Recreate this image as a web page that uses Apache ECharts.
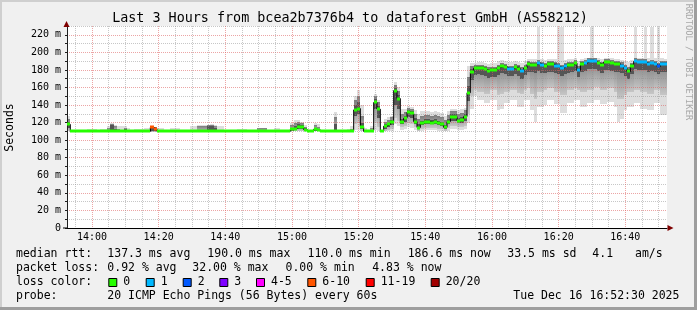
<!DOCTYPE html>
<html><head><meta charset="utf-8">
<script src="https://cdn.jsdelivr.net/npm/echarts@6/dist/echarts.min.js"></script>
<style>html,body{margin:0;padding:0;background:#f0f0f0}#c{width:697px;height:310px}</style>
</head><body><div id="c"></div>
<script>
// time axis: minutes after 13:52:30, one bin per minute
const START_MIN = 13 * 60 + 52.5;
const TITLE = 'Last 3 Hours from bcea2b7376b4 to dataforest GmbH (AS58212)';
const yTicks = [0, 20, 40, 60, 80, 100, 120, 140, 160, 180, 200, 220];
const xTickLabels = ['14:00', '14:20', '14:40', '15:00', '15:20', '15:40', '16:00', '16:20', '16:40'];

// median rtt (ms) per minute
const median = [
118,110,110,110,110,110,110,110,110,110,
110,110,111,111,111,110,110,111,111,110,
110,110,110,110,110,114.5,113,110,110,110,
110,110,110,110,110,110,110,110,110,110,
110,110,111,111,111,111,110,110,110,110,
110,110,110,110,110,110,110,110,110,110,
110,110,110,110,110,110,110,112.5,113.2,115,
115,112,110,110,112.5,111.5,110,110,110,110,
110.5,110,110,110,110,110,134.5,136,115.5,110,
110,111,143,135.3,110,116,118,120.4,156.5,147.4,
120.4,125,131.8,130.7,121.2,114.4,119.3,121.2,121.2,120.1,
121.2,119.3,118,114.5,121,126.9,126.9,122.3,123.5,126.9,
154,177.5,182,182.5,182,180.5,179,179.5,179.5,182.5,
184,183.5,181.3,181.3,182.8,181.5,178.5,182,186.5,186,
185.8,187.7,185.8,184,186.5,186.5,185,184,182,184,
185.8,186,187.7,179.5,186.5,187.7,189.6,190,189.6,187.7,
185.8,188.8,188.8,187.7,186.5,187,184.7,182,178.2,184,
189.6,188.5,188.5,188.5,187,187.7,187,184,187,186.6];

// loss class index per minute (0:'0',1:'1',2:'2',...,5:'6-10')
const loss = [
0,0,0,0,0,0,0,0,0,0, 0,0,0,0,0,0,0,0,0,0,
0,0,0,0,0,5,5,0,0,0, 0,0,0,0,0,0,0,0,0,0,
0,0,0,0,0,0,0,0,0,0, 0,0,0,0,0,0,0,0,0,0,
0,0,0,0,0,0,0,0,0,0, 0,0,0,0,0,0,0,0,0,0,
0,0,0,0,0,0,0,0,0,0, 0,0,0,0,0,0,0,0,0,0,
0,0,0,0,0,0,0,0,0,0, 0,0,0,0,0,0,0,0,0,0,
0,0,0,0,0,0,0,0,0,0, 0,0,1,1,0,0,1,0,0,0,
0,1,1,0,0,0,1,1,1,1, 0,0,0,1,0,1,1,1,1,0,
0,0,0,0,0,0,1,1,0,0, 1,1,1,1,1,1,1,2,1,1];

// smoke: min, ~10th, ~25th, ~75th, ~90th, max ping (ms)
const smokeMin = [
110,109.5,109.5,109.5,109.5,109.5,109.5,109.5,109.5,109.5,
109.5,109.5,109.5,109.5,109.5,109.5,109.5,109.5,109.5,109.5,
109.5,109.5,109.5,109.5,109.5,109.5,109.5,109.5,109.5,109.5,
109.5,109.5,109.5,109.5,109.5,109.5,109.5,109.5,109.5,109.5,
109.5,109.5,109.5,109.5,109.5,109.5,109.5,109.5,109.5,109.5,
109.5,109.5,109.5,109.5,109.5,109.5,109.5,109.5,109.5,109.5,
109.5,109.5,109.5,109.5,109.5,109.5,109.5,110,110,110,
110,110,109.5,109.5,110,110,109.5,109.5,109.5,109.5,
109.5,109.5,109.5,109.5,109.5,109.5,112,112,110,109.5,
109.5,110,112,111,109.5,110,110,111,118,116,
112,113,115,114,112,110,111,112,112,112,
112,111,111,110,111,113,113,112,112,113,
120,135,150,146,146,142,142,146,146,134.5,
136,142,142,146,146,138,138,146,146,134.5,
121,138,138,140,146,146,141,141,131,131,
142,142,146,146,138,138,142,142,146,146,
141,141,144,144,138,121,124,134.5,138,138,
142,142,136,136,134.5,134.5,142,142,129,129];

const smokeP10 = [
111,109.7,109.7,109.7,109.7,109.7,109.7,109.7,109.7,109.7,
109.7,109.7,109.7,109.7,109.7,109.7,109.7,109.7,109.7,109.7,
109.7,109.7,109.7,109.7,109.7,109.7,109.7,109.7,109.7,109.7,
109.7,109.7,109.7,109.7,109.7,109.7,109.7,109.7,109.7,109.7,
109.7,109.7,109.7,109.7,109.7,109.7,109.7,109.7,109.7,109.7,
109.7,109.7,109.7,109.7,109.7,109.7,109.7,109.7,109.7,109.7,
109.7,109.7,109.7,109.7,109.7,109.7,109.7,110.5,110.5,111,
111,110.5,109.7,109.7,110.5,110.5,109.7,109.7,109.7,109.7,
110,109.7,109.7,109.7,109.7,109.7,118,120,111,109.7,
109.7,110.2,120,115,109.7,111,112,113,125,122,
115,116,119,118,115,111,113,114,114,114,
114,113,113,111,114,116,116,115,115,116,
130,150,157,155,155,153,153,157,157,152,
153,155,155,157,157,154,153,157,159,153,
147,155,155,157,159,159,155,155,151,151,
157,157,159,157,155,155,157,157,160,160,
157,157,159,159,155,147,147,152,155,155,
157,157,155,155,153,153,157,157,151,151];

const smokeQ1 = [
114,109.8,109.8,109.8,109.8,109.8,109.8,109.8,109.8,109.8,
109.8,109.8,109.8,109.8,109.8,109.8,109.8,109.8,109.8,109.8,
109.8,109.8,109.8,109.8,109.8,111,111,109.8,109.8,109.8,
109.8,109.8,109.8,109.8,109.8,109.8,109.8,109.8,109.8,109.8,
109.8,109.8,109.8,109.8,109.8,109.8,109.8,109.8,109.8,109.8,
109.8,109.8,109.8,109.8,109.8,109.8,109.8,109.8,109.8,109.8,
109.8,109.8,109.8,109.8,109.8,109.8,109.8,111,112,113,
113,111,109.8,109.8,111,110.5,109.8,109.8,109.8,109.8,
110,109.8,109.8,109.8,109.8,109.8,128,130,113,109.8,
109.8,110.5,135,125,109.8,113,115,117,140,135,
118,121,126,125,118,113,117,118,118,118,
118,117,116,113,118,122,122,119,120,122,
145,168,174,175,174,173,171,172,172,174,
176,175,173,173,175,173,170,174,178,178,
177,179,177,176,178,178,176,175,173,175,
177,178,179,172,178,179,181,181,181,179,
177,180,180,179,178,178,176,173,170,175,
181,180,180,180,178,179,178,175,178,178];

const smokeQ3 = [
121,110.4,110.4,110.4,110.4,110.4,110.4,110.4,110.4,110.4,
110.4,110.4,112,117,113,110.4,110.4,113,110.4,110.4,
110.4,110.4,110.4,110.4,110.4,115,114,110.4,110.4,110.4,
110.4,110.4,110.4,110.4,110.4,110.4,110.4,110.4,110.4,110.4,
110.4,110.4,116,116,114,110.4,110.4,110.4,110.4,110.4,
110.4,110.4,110.4,110.4,110.4,110.4,110.4,110.4,110.4,110.4,
110.4,110.4,110.4,110.4,110.4,110.4,110.4,114,116,118,
117,113.5,110.4,110.4,114,113,110.4,110.4,110.4,110.4,
118,110.4,110.4,110.4,110.4,111,140,143,120,110.5,
110.4,112,147,139,110.5,118,120,123,159,151,
124,128,134,133,125,118,122,124,124,123,
124,122,121,117,124,130,130,125,126,130,
162,181,184,184.5,184,183,181.5,182,182,184.5,
186,185.5,183.5,183.5,185,184,181,184.5,188.5,188,
188,189.5,188,186.5,188.5,188.5,187.5,186.5,184.5,186.5,
188,188,189.5,182.5,188.5,189.5,191.5,192,191.5,189.5,
188,190.5,190.5,189.5,188.5,189,187,184.5,181,186.5,
191.5,190.5,190.5,190.5,189,189.5,189,186.5,189,188.5];

const smokeP90 = [
124,110.6,110.6,110.6,110.6,110.6,110.6,110.6,110.6,110.6,
110.6,110.6,114,118,116,113,112,114,112,110.6,
110.6,110.6,110.6,110.6,110.6,115.5,114.5,110.6,110.6,110.6,
110.6,110.6,110.6,110.6,110.6,110.6,110.6,112,112,116,
116,116,117,117.7,116,112,112,110.6,110.6,110.6,
110.6,110.6,110.6,110.6,110.6,110.6,110.6,113.5,113.5,113.5,
110.6,110.6,110.6,110.6,110.6,110.6,110.6,117,120,121,
119,115,110.6,110.6,117,115,110.6,110.6,110.6,110.6,
126,110.6,110.6,110.6,110.6,113,146,150,128,112,
110.6,114,150,143,111,121,123,126,163,156,
130,132,137,136,130,124,128,129,129,128,
129,127,126,123,129,133,133,130,131,134,
172,185,185.5,186,185.5,184.5,183,183.5,183.5,186,
187.5,187,185,185,186.5,185.5,183,186,190,189.5,
189.5,191,189.5,188,190,190,189,188,186,188,
189.5,189.5,191,185,190,191,193,193.5,193,191,
189.5,192,192,191,190,190.5,188.5,186,183,188,
193,192,192,192,190.5,191,190.5,188,190.5,190];

const smokeMax = [
127,111,111,111,111,111,113,113.2,112.5,111,
112.6,112.6,116,119,117,116.4,116,116.5,114,111,
112.5,112.5,112.5,114,114,116,115,113.5,113.5,111,
111,113.6,113.6,113.6,111,111,111,115.6,115.6,117.7,
117.7,117.7,117.7,118,117.7,115.6,115.6,111,111,111,
111,112.6,112.6,112.6,111,111,111,113.8,113.8,113.8,
111,111,113.8,113.8,111,111,111,120,123,123,
121,117,111,111,120,118,111,111,111,111,
132,111,111,111,113,116,150,157,140,114,
111,116,153,146,112,124,126,128,166,160,
135,136,139,138,134,130,133,133,133,132,
133,132,131,128,133,136,136,134,135,137,
184,188,188,189,189,188,187,188,188,190,
191,190,189,189,190,189,188,190,192,192,
192,229,192,191,192,192,192,229,229,191,
192,192,193,190,192,193,194,229,194,193,
192,193,193,193,192,192,191,190,189,191,
229,194,193,229,193,229,193,229,193,192];

// legend / statistics text
const lossLabels = ['0', '1', '2', '3', '4-5', '6-10', '11-19', '20/20'];
const lossColors = ['#26ff00', '#00b8ff', '#0059ff', '#7e00ff', '#ff00ff', '#ff5500', '#ff0000', '#a10000'];
const rttStats = ['137.3 ms avg', '190.0 ms max', '110.0 ms min', '186.6 ms now', '33.5 ms sd', '4.1', 'am/s'];
const lossStats = ['0.92 % avg', '32.00 % max', '0.00 % min', '4.83 % now'];
const probeText = '20 ICMP Echo Pings (56 Bytes) every 60s';
const dateText = 'Tue Dec 16 16:52:30 2025';

const FONT = '"DejaVu Sans Mono", "Liberation Mono", monospace';
const GRID_C = 'rgba(143,143,143,0.5)';
const MGRID_C = 'rgba(222,95,95,0.56)';
const NONE = 'rgba(0,0,0,0)';
const MID_FILL = {type: 'linear', x: 0, y: 0, x2: 0, y2: 1,
  colorStops: [{offset: 0, color: '#7c7c7c'}, {offset: 1, color: '#c6c6c6'}]};

const chart = echarts.init(document.getElementById('c'), null, {renderer: 'canvas', width: 697, height: 310});

const smokeData = median.map((m, k) => [k, smokeMin[k], smokeP10[k], smokeQ1[k], smokeQ3[k], smokeP90[k], smokeMax[k]]);
const medData = median.map((m, k) => [k, m, loss[k]]);
const stepData = median.map((m, k) => [k, m]).concat([[180, median[179]]]);

function band(api, k, v0, v1, fill) {
  const a = api.coord([k, v1]);
  const b = api.coord([k + 1, v0]);
  const x0 = Math.round(a[0]), x1 = Math.round(b[0]);
  const y0 = Math.round(a[1]), y1 = Math.round(b[1]);
  return {type: 'rect', shape: {x: x0, y: y0, width: x1 - x0, height: Math.max(y1 - y0, 0)}, style: {fill: fill}};
}

function txt(text, x, y, size, extra) {
  return Object.assign({
    type: 'text', x: x, y: y, z: 10,
    style: {text: text, fontSize: size, fontFamily: FONT, fill: '#000',
            align: 'left', textAlign: 'left', verticalAlign: 'middle', textVerticalAlign: 'middle'}
  }, extra || {});
}

const L1 = 254.3, L2 = 268.3, L3 = 282.5, L4 = 296.2, LF = 11.5;
const rttX = [107.3, 207.3, 307.5, 407.7, 507.3, 592.3, 635];
const lossX = [107.3, 192.3, 285.5, 372.2];
const boxX = [108.3, 145.7, 182.7, 219.3, 256, 307.3, 365.7, 430.7];

const graphics = [
  {type: 'rect', shape: {x: 0, y: 0, width: 697, height: 2}, style: {fill: '#cfcfcf'}, z: 10},
  {type: 'rect', shape: {x: 0, y: 0, width: 2, height: 310}, style: {fill: '#cfcfcf'}, z: 10},
  {type: 'rect', shape: {x: 694, y: 0, width: 3, height: 310}, style: {fill: '#9e9e9e'}, z: 10},
  {type: 'rect', shape: {x: 0, y: 307, width: 697, height: 3}, style: {fill: '#9e9e9e'}, z: 10},
  {type: 'polygon', shape: {points: [[63.5, 27], [69.5, 27], [66.5, 21]]}, style: {fill: '#7f0000'}, z: 10},
  {type: 'polygon', shape: {points: [[667.5, 225], [667.5, 231], [673.5, 228]]}, style: {fill: '#7f0000'}, z: 10},
  {type: 'rect', shape: {x: 63, y: 227.5, width: 4, height: 1}, style: {fill: '#000'}, z: 10},
  txt(TITLE, 350, 18.5, 13.4, {style: {text: TITLE, fontSize: 13.4, fontFamily: FONT, fill: '#000', align: 'center', textAlign: 'center', verticalAlign: 'middle', textVerticalAlign: 'middle'}}),
  txt('Seconds', 10, 127.5, LF, {rotation: Math.PI / 2, style: {text: 'Seconds', fontSize: LF, fontFamily: FONT, fill: '#000', align: 'center', textAlign: 'center', verticalAlign: 'middle', textVerticalAlign: 'middle'}}),
  txt('RRDTOOL / TOBI OETIKER', 688.5, 62, 8.8, {rotation: -Math.PI / 2, style: {text: 'RRDTOOL / TOBI OETIKER', fontSize: 8.8, fontFamily: FONT, fill: '#a8a8a8', align: 'center', textAlign: 'center', verticalAlign: 'middle', textVerticalAlign: 'middle'}}),
  txt('median rtt:', 16, L1, LF),
  txt('packet loss:', 16, L2, LF),
  txt('loss color:', 16, L3, LF),
  txt('probe:', 16, L4, LF),
  txt(probeText, 107.3, L4, LF),
  txt(dateText, 513.3, L4, LF)
];
rttStats.forEach((s, i) => graphics.push(txt(s, rttX[i], L1, LF)));
lossStats.forEach((s, i) => graphics.push(txt(s, lossX[i], L2, LF)));
lossLabels.forEach((s, i) => {
  graphics.push({type: 'rect', shape: {x: boxX[i] + 0.5, y: 278.5, width: 8, height: 8},
                 style: {fill: lossColors[i], stroke: '#000', lineWidth: 1}, z: 10});
  graphics.push(txt(s, boxX[i] + 15, L3, LF));
});

chart.setOption({
  backgroundColor: '#f0f0f0',
  animation: false,
  grid: {left: 67, top: 26, width: 600, height: 202, show: true, backgroundColor: '#ffffff', borderWidth: 0, z: 0},
  xAxis: {
    type: 'value', min: 0, max: 180, interval: 2.5, z: 2,
    axisLine: {show: true, onZero: false, lineStyle: {color: '#000', width: 1}},
    axisTick: {show: false},
    axisLabel: {
      margin: 4, color: '#000', fontSize: 10, fontFamily: FONT,
      formatter: function (v) {
        const t = START_MIN + v;
        const h = Math.floor(t / 60), m = Math.round(t - h * 60);
        const s = h + ':' + String(m).padStart(2, '0');
        return xTickLabels.indexOf(s) >= 0 && Math.abs(t - Math.round(t)) < 1e-6 ? s : '';
      }
    },
    splitLine: {show: true, lineStyle: {color: [NONE, GRID_C, NONE, MGRID_C, NONE, GRID_C, NONE, GRID_C], width: 1, type: [1, 1]}}
  },
  yAxis: {
    type: 'value', min: 0, max: 230, interval: 10, z: 2,
    axisLine: {show: true, lineStyle: {color: '#1f1f1f', width: 1}},
    axisTick: {show: true, length: 2, lineStyle: {color: '#1f1f1f'}},
    axisLabel: {
      margin: 6, color: '#000', fontSize: 10, fontFamily: FONT,
      formatter: function (v) {
        if (yTicks.indexOf(v) < 0) return '';
        return v === 0 ? '0' : v + ' m';
      }
    },
    splitLine: {show: true, lineStyle: {color: [MGRID_C, GRID_C], width: 1, type: [1, 1]}}
  },
  series: [
    {
      type: 'custom', name: 'smoke', z: 1, silent: true,
      encode: {x: 0, y: [1, 2, 3, 4, 5, 6]},
      data: smokeData,
      renderItem: function (params, api) {
        const k = api.value(0);
        return {type: 'group', children: [
          band(api, k, api.value(1), api.value(6), '#dddddd'),
          band(api, k, api.value(2), api.value(5), MID_FILL),
          band(api, k, api.value(3), api.value(4), '#555555')
        ]};
      }
    },
    {
      type: 'line', name: 'median', z: 3, step: 'end', showSymbol: false, symbol: 'none', silent: true,
      data: stepData, lineStyle: {color: '#000', width: 1}
    },
    {
      type: 'custom', name: 'loss', z: 4, silent: true,
      encode: {x: 0, y: 1},
      data: medData,
      renderItem: function (params, api) {
        const k = api.value(0);
        const a = api.coord([k, api.value(1)]);
        const b = api.coord([k + 1, api.value(1)]);
        const x0 = Math.round(a[0]), x1 = Math.round(b[0]);
        return {type: 'rect', shape: {x: x0, y: Math.round(a[1]) - 1.5, width: x1 - x0, height: 3},
                style: {fill: lossColors[api.value(2)]}};
      }
    }
  ],
  graphic: {elements: graphics}
});
</script>
</body></html>
